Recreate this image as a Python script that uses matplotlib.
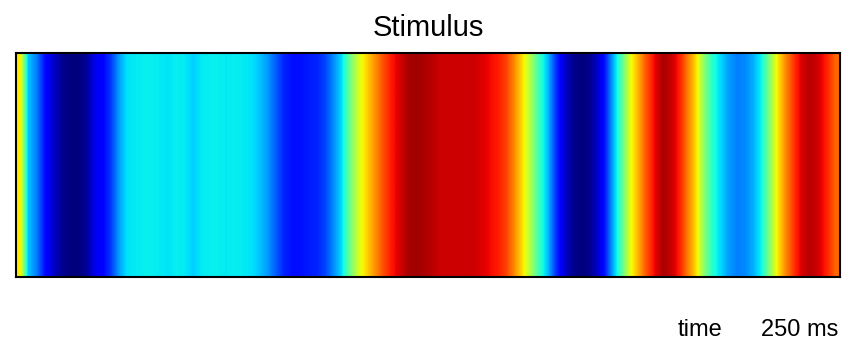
import numpy as np
import matplotlib
matplotlib.use("Agg")
import matplotlib.pyplot as plt

plt.rcParams['font.family'] = ['Liberation Sans', 'DejaVu Sans']

# stimulus intensity per time bin (0..1 on the jet scale)
stimulus = [0.66, 0.32, 0.25, 0.14, 0.07, 0.02, 0.0, 0.0, 0.02, 0.09,
            0.12, 0.18, 0.28, 0.35, 0.355, 0.36, 0.36, 0.355, 0.35, 0.36,
            0.355, 0.33, 0.355, 0.36, 0.36, 0.355, 0.36, 0.355, 0.35, 0.32,
            0.28, 0.22, 0.16, 0.14, 0.14, 0.15, 0.16, 0.19, 0.26, 0.34,
            0.48, 0.60, 0.68, 0.75, 0.82, 0.88, 0.92, 0.96, 0.97, 0.96,
            0.95, 0.93, 0.93, 0.93, 0.93, 0.93, 0.92, 0.90, 0.88, 0.84,
            0.76, 0.67, 0.55, 0.42, 0.32, 0.18, 0.08, 0.02, 0.0, 0.01,
            0.06, 0.15, 0.30, 0.45, 0.62, 0.72, 0.82, 0.90, 0.96, 0.94,
            0.88, 0.78, 0.68, 0.52, 0.40, 0.34, 0.28, 0.25, 0.26, 0.30,
            0.37, 0.52, 0.67, 0.77, 0.86, 0.93, 0.95, 0.92, 0.87, 0.80]

title = "Stimulus"
time_label = "time"
scale_label = "250 ms"

W, H = 856, 342
fig = plt.figure(figsize=(W / 100, H / 100), dpi=100)
ax = fig.add_axes([16 / W, (H - 277) / H, (840 - 16) / W, (277 - 53) / H])

img = np.array(stimulus)[np.newaxis, :]
ax.imshow(img, cmap='jet', vmin=0, vmax=1, aspect='auto', interpolation='bilinear')
ax.set_xticks([])
ax.set_yticks([])
for s in ax.spines.values():
    s.set_linewidth(1.5)
    s.set_color('black')

ax.set_title(title, fontsize=21, pad=12)

fig.text(722 / W, (H - 336) / H, time_label, ha='right', va='baseline', fontsize=17)
fig.text(838 / W, (H - 336) / H, scale_label, ha='right', va='baseline', fontsize=17)

fig.savefig("out.png", dpi=100)
